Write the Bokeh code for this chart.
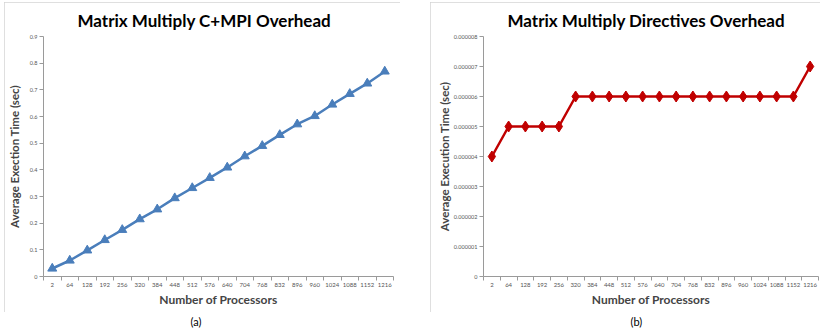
from bokeh.plotting import figure
from bokeh.layouts import row, column
from bokeh.models import FixedTicker, LinearAxis, Range1d, PrintfTickFormatter
from bokeh.embed import file_html
from bokeh.resources import INLINE

# Processor counts on the x axis (shared by both charts)
processors = [2, 64, 128, 192, 256, 320, 384, 448, 512, 576, 640, 704, 768,
              832, 896, 960, 1024, 1088, 1152, 1216]

# Average execution time (sec) for the C+MPI version
mpi_time = [0.030, 0.060, 0.098, 0.137, 0.175, 0.215, 0.252, 0.294, 0.332,
            0.370, 0.409, 0.451, 0.490, 0.531, 0.571, 0.602, 0.645, 0.685,
            0.724, 0.769]

# Average execution time (sec) for the directives version
dir_time = [0.000004, 0.000005, 0.000005, 0.000005, 0.000005, 0.000006,
            0.000006, 0.000006, 0.000006, 0.000006, 0.000006, 0.000006,
            0.000006, 0.000006, 0.000006, 0.000006, 0.000006, 0.000006,
            0.000006, 0.000007]

mpi_yticks = [0, 0.1, 0.2, 0.3, 0.4, 0.5, 0.6, 0.7, 0.8, 0.9]
dir_yticks = [0, 0.000001, 0.000002, 0.000003, 0.000004, 0.000005,
              0.000006, 0.000007, 0.000008]

FONT = "Lato"
GRID = "#d0d0d0"
AXIS = "#9a9a9a"
PANEL_BORDER = {"outline": "1px solid #d4d4d4", "outline-offset": "-1px"}

n = len(processors)
xpos = [i + 0.5 for i in range(n)]


def make_panel(title, ylabel, ys, yticks, ymax, color, marker, size,
               width, border_left, border_right, title_offset, tick_fmt,
               ylabel_standoff, margin):
    p = figure(width=width, height=310, x_range=Range1d(0, n),
               y_range=Range1d(0, ymax), output_backend="svg",
               toolbar_location=None, x_axis_type=None, y_axis_type=None,
               min_border_left=border_left, min_border_right=border_right,
               min_border_top=34, min_border_bottom=36,
               margin=margin, styles=PANEL_BORDER)
    p.outline_line_color = None
    p.background_fill_color = "white"
    p.border_fill_color = "white"

    p.title.text = title
    p.title.align = "left"
    p.title.offset = title_offset
    p.title.text_font = FONT
    p.title.text_font_style = "bold"
    p.title.text_font_size = "17px"
    p.title.text_color = "#000000"
    p.title.standoff = 11

    xaxis = LinearAxis(
        ticker=FixedTicker(ticks=xpos, minor_ticks=list(range(n + 1))),
        major_label_overrides={x: str(v) for x, v in zip(xpos, processors)},
        axis_label="Number of Processors")
    xaxis.axis_line_color = AXIS
    xaxis.major_tick_line_color = None
    xaxis.major_tick_out = 0
    xaxis.major_tick_in = 0
    xaxis.minor_tick_line_color = AXIS
    xaxis.minor_tick_out = 4
    xaxis.minor_tick_in = 0
    xaxis.major_label_text_font = FONT
    xaxis.major_label_text_font_size = "6px"
    xaxis.major_label_text_color = "#555555"
    xaxis.major_label_standoff = 2
    xaxis.axis_label_text_font = FONT
    xaxis.axis_label_text_font_style = "bold"
    xaxis.axis_label_text_font_size = "12px"
    xaxis.axis_label_standoff = 2
    p.add_layout(xaxis, "below")

    yaxis = LinearAxis(ticker=FixedTicker(ticks=yticks), axis_label=ylabel)
    if tick_fmt:
        yaxis.formatter = PrintfTickFormatter(format=tick_fmt)
        yaxis.major_label_overrides = {0: "0"}
    yaxis.axis_line_color = AXIS
    yaxis.major_tick_line_color = AXIS
    yaxis.major_tick_out = 4
    yaxis.major_tick_in = 0
    yaxis.minor_tick_line_color = None
    yaxis.major_label_text_font = FONT
    yaxis.major_label_text_font_size = "5.5px"
    yaxis.major_label_text_color = "#555555"
    yaxis.major_label_standoff = 2
    yaxis.axis_label_text_font = FONT
    yaxis.axis_label_text_font_style = "bold"
    yaxis.axis_label_text_font_size = "11.5px"
    yaxis.axis_label_standoff = ylabel_standoff
    p.add_layout(yaxis, "left")

    p.ygrid.ticker = FixedTicker(ticks=yticks)
    p.ygrid.grid_line_color = GRID
    p.ygrid.grid_line_width = 1
    p.xgrid.grid_line_color = None

    p.line(xpos, ys, line_color=color, line_width=2.5)
    p.scatter(xpos, ys, marker=marker, size=size, fill_color=color,
              line_color=color)
    return p


def make_caption(text, width, offset, margin):
    c = figure(width=width, height=23, x_range=Range1d(0, 1),
               y_range=Range1d(0, 1), output_backend="svg",
               toolbar_location=None, x_axis_type=None, y_axis_type=None,
               min_border_left=0, min_border_right=0,
               min_border_top=4, min_border_bottom=0, margin=margin)
    c.outline_line_color = None
    c.xgrid.grid_line_color = None
    c.ygrid.grid_line_color = None
    c.title.text = text
    c.title.align = "left"
    c.title.offset = offset
    c.title.text_font = FONT
    c.title.text_font_style = "normal"
    c.title.text_font_size = "11px"
    c.title.text_color = "#000000"
    c.title.standoff = 0
    return c


left = make_panel("Matrix Multiply C+MPI Overhead", "Average Exection Time (sec)",
                  mpi_time, mpi_yticks, 0.9, "#4a7ebb", "triangle", 9,
                  396, 38, 7, 34, None, 6, (2, 30, 0, 4))
left_cap = make_caption("(a)", 396, 147, (0, 30, 0, 4))

right = make_panel("Matrix Multiply Directives Overhead",
                   "Average Execution Time (sec)",
                   dir_time, dir_yticks, 0.000008, "#c00000", "diamond", 11,
                   390, 53, 2, 24, "%.6f", 0, (2, 0, 0, 0))
right_cap = make_caption("(b)", 390, 147, (0, 0, 0, 0))

layout = row(column(left, left_cap), column(right, right_cap))

open("out.html", "w").write(file_html(layout, INLINE))
